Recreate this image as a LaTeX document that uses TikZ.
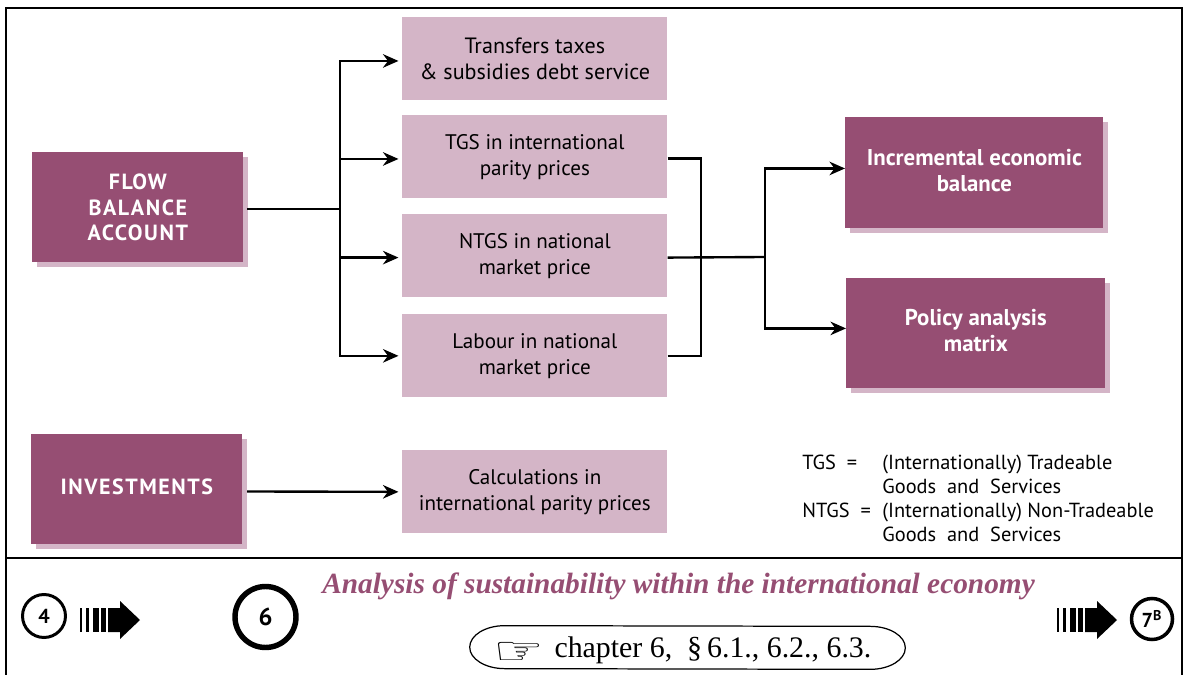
\documentclass[tikz,border=0pt]{standalone}
\usepackage{fontspec}
\setmainfont{PT Sans}
\newfontfamily\capsfont[LetterSpace=7]{PT Sans}
\newfontfamily\titlefont{Liberation Serif}
\newfontfamily\handfont{DejaVu Sans}
\usetikzlibrary{arrows.meta,shadows}
\definecolor{plumdark}{HTML}{964E73}
\definecolor{plumlight}{HTML}{D4B5C7}
\tikzset{
	darkbox/.style={anchor=north west,inner sep=0pt,fill=plumdark,text=white,align=center,font=\fontsize{12.5}{14.6}\selectfont,drop shadow={shadow xshift=0.09cm,shadow yshift=-0.1cm,fill=plumlight,opacity=1}},
	lightbox/.style={anchor=north west,inner sep=0pt,fill=plumlight,text=black,align=center,minimum width=5.3cm,minimum height=1.66cm,font=\fontsize{12}{14.6}\selectfont},
	link/.style={line width=1.35pt,-{Stealth[length=3.1mm,width=2.7mm,inset=1mm]}},
	trunk/.style={line width=1.35pt},
	ringnode/.style={circle,draw,inner sep=0pt},
	fatarrow/.pic={
		\foreach \xa/\xb in {0/2,5.7/8.7,13/18.7,20.7/26}{\fill[black] (\xa,-12) rectangle (\xb,12);}
		\fill[black] (28,-12)--(40,-12)--(40,-19)--(60,0)--(40,19)--(40,12)--(28,12)--cycle;
	}
}
\begin{document}
\begin{tikzpicture}[x=0.02cm,y=-0.02cm]
\useasboundingbox (0,0) rectangle (1186,675);
\draw[line width=0.7pt] (6,675)--(6,8)--(1182,8)--(1182,675);
\draw[line width=0.7pt] (6,558)--(1182,558);
% left blocks
\node[darkbox,minimum width=4.22cm,minimum height=2.2cm] (flow) at (32,152) {\capsfont\bfseries FLOW\\\capsfont\bfseries BALANCE\\\capsfont\bfseries ACCOUNT};
\node[darkbox,minimum width=4.22cm,minimum height=2.2cm,text depth=2.5pt] (invest) at (31,434) {\capsfont\bfseries INVESTMENTS};
% middle column
\node[lightbox,font=\fontsize{12.6}{14.6}\selectfont] (transfers) at (402,17) {Transfers taxes\\\& subsidies debt service};
\node[lightbox] (tgs) at (402,115) {TGS in international\\parity prices};
\node[lightbox] (ntgs) at (402,214) {NTGS in national\\market price};
\node[lightbox] (labour) at (402,314) {Labour in national\\market price};
\node[lightbox] (calc) at (402,450) {Calculations in\\international parity prices};
% right column
\node[darkbox,minimum width=5.16cm,minimum height=2.22cm,font=\fontsize{13}{14.9}\bfseries,text depth=2.5pt] (incr) at (845,117) {Incremental economic\\balance};
\node[darkbox,minimum width=5.18cm,minimum height=2.2cm,font=\fontsize{13}{14.9}\bfseries,text depth=3.5pt] (policy) at (846,278) {Policy analysis\\matrix};
% connectors
\coordinate (flowout) at (247,209);
\coordinate (split) at (340,209);
\coordinate (merge) at (701,257);
\coordinate (fork) at (765,257);
\draw[trunk] (flowout)--(split);
\draw[link] (split)|-([xshift=-2pt,yshift=-1.2pt]transfers.west);
\draw[link] (split)|-([xshift=-2pt,yshift=-1.2pt]tgs.west);
\draw[link] (split)|-([xshift=-2pt,yshift=-1pt]ntgs.west);
\draw[link] (split)|-([xshift=-2pt]labour.west);
\draw[trunk] ([yshift=-1pt]tgs.east)-|(merge);
\draw[trunk] (labour.east)-|(merge);
\draw[trunk] ([yshift=-1pt]ntgs.east)--(fork);
\draw[link] (fork)|-([yshift=2.5pt]incr.west);
\draw[link] (fork)|-([yshift=2.8pt]policy.west);
\coordinate (investout) at (247,491.5);
\draw[link] (investout)--([xshift=-2pt]calc.west);
% key
\node[anchor=north west,inner sep=0pt,align=left,font=\fontsize{11.6}{13.6}\selectfont] (keytgs) at (802,455) {TGS\ \ =};
\node[anchor=north west,inner sep=0pt,align=left,font=\fontsize{11.6}{13.6}\selectfont] (keytext) at (882,455) {(Internationally) Tradeable\\Goods\ \ and\ \ Services\\(Internationally) Non-Tradeable\\Goods\ \ and\ \ Services};
\node[anchor=north west,inner sep=0pt,align=left,font=\fontsize{11.6}{13.6}\selectfont] (keyntgs) at (802,503) {NTGS\ \ =};
% footer
\node[text=plumdark,font=\titlefont\bfseries\itshape\fontsize{16.7}{19}\selectfont] (title) at (678.5,586) {Analysis of sustainability within the international economy};
\node[inner sep=0pt,minimum width=8.7cm,minimum height=0.86cm,text height=15pt,font=\titlefont\fontsize{17}{19}\selectfont] (pill) at (687.5,647.5) {\hspace*{-6pt}{\handfont\raisebox{-4pt}{\scalebox{1.9}[1.3]{☞}}}\hspace{6pt}chapter 6,\ \ \S\,6.1., 6.2., 6.3.};
\draw[line width=0.7pt] ([xshift=0.7cm]pill.north west) arc[start angle=90,end angle=270,x radius=0.7cm,y radius=0.43cm]--([xshift=-0.7cm]pill.south east) arc[start angle=-90,end angle=90,x radius=0.7cm,y radius=0.43cm]--cycle;
\node[ringnode,line width=1.7pt,minimum size=0.86cm,font=\bfseries\fontsize{11.5}{13}\selectfont] (prev) at (44,616) {4};
\node[ringnode,line width=3.1pt,minimum size=1.22cm,font=\bfseries\fontsize{14}{16}\selectfont] (current) at (265.5,617) {6};
\node[ringnode,line width=2pt,minimum size=0.82cm,font=\bfseries\fontsize{11.5}{13}\selectfont] (next) at (1152,619) {7\textsuperscript{B}};
\pic at (80,620) {fatarrow};
\pic at (1057,620) {fatarrow};
\end{tikzpicture}
\end{document}
